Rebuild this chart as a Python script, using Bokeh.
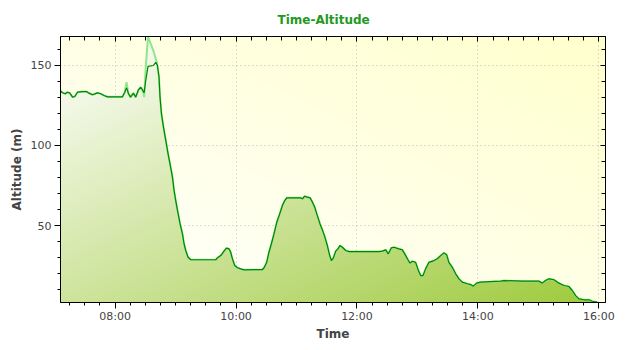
import numpy as np
import pandas as pd
from bokeh.plotting import figure
from bokeh.models import (Range1d, DatetimeAxis, LinearAxis, FixedTicker,
                          DatetimeTickFormatter, ColumnDataSource)
from bokeh.embed import file_html
from bokeh.resources import INLINE

# ---------------- data ----------------
DAY = "2024-06-01 "
times = [
    "07:05:50", "07:07:50", "07:10:25", "07:12:50", "07:15:05", "07:17:50", "07:20:00", "07:22:40", "07:27:40", "07:31:35",
    "07:34:10", "07:37:35", "07:42:30", "07:45:50", "07:49:05", "07:52:30", "08:07:20", "08:09:35", "08:11:20", "08:13:20",
    "08:15:20", "08:18:10", "08:20:30", "08:23:10", "08:25:30", "08:27:50", "08:28:50", "08:30:25", "08:32:40", "08:38:05",
    "08:40:25", "08:42:00", "08:43:35", "08:44:35", "08:46:00", "08:48:00", "08:50:20", "08:52:35", "08:54:30", "08:56:55",
    "08:58:30", "09:00:10", "09:01:55", "09:04:30", "09:06:50", "09:08:25", "09:10:05", "09:12:25", "09:15:05", "09:39:55",
    "09:41:35", "09:44:50", "09:48:05", "09:50:30", "09:53:05", "09:54:40", "09:56:25", "09:58:40", "10:01:25", "10:04:40",
    "10:07:55", "10:26:10", "10:27:50", "10:30:25", "10:32:40", "10:35:05", "10:37:40", "10:40:25", "10:43:20", "10:46:00",
    "10:48:20", "10:50:20", "11:04:10", "11:05:55", "11:08:05", "11:10:50", "11:13:25", "11:15:50", "11:18:05", "11:20:40",
    "11:23:20", "11:25:40", "11:28:00", "11:30:35", "11:32:55", "11:34:35", "11:36:35", "11:38:55", "11:41:10", "11:43:05",
    "11:45:30", "11:48:50", "11:52:05", "12:21:50", "12:25:10", "12:28:30", "12:31:05", "12:34:05", "12:36:40", "12:41:40",
    "12:45:00", "12:48:20", "12:50:35", "12:52:35", "12:54:55", "12:58:10", "13:00:55", "13:03:10", "13:05:30", "13:08:05",
    "13:11:25", "13:16:25", "13:19:40", "13:23:00", "13:26:20", "13:29:00", "13:31:10", "13:34:35", "13:37:55", "13:41:10",
    "13:44:30", "13:49:30", "13:52:50", "13:55:25", "13:58:40", "14:02:40", "14:22:30", "14:25:50", "14:44:00", "15:00:30",
    "15:03:55", "15:07:05", "15:10:25", "15:15:25", "15:20:20", "15:25:20", "15:30:10", "15:33:35", "15:36:55", "15:40:10",
    "15:45:05", "15:50:05", "15:53:30", "15:58:25",
]
# smoothed altitude (dark line)
alt_track = [
    134.0, 133.0, 132.3, 133.3, 132.7, 130.2, 130.6, 133.3, 133.7, 133.7,
    132.7, 131.7, 132.9, 132.3, 131.2, 130.4, 130.4, 133.3, 136.0, 132.3,
    130.2, 132.7, 130.2, 134.8, 136.4, 134.0, 133.0, 140.6, 149.4, 150.0,
    152.0, 150.0, 142.7, 130.2, 119.8, 111.5, 103.0, 94.8, 88.5, 80.2,
    71.9, 65.6, 59.4, 51.0, 44.8, 38.6, 34.4, 30.2, 28.6, 28.6,
    29.8, 31.2, 34.0, 35.9, 35.4, 33.3, 29.2, 25.0, 23.6, 22.9,
    22.3, 22.5, 23.6, 27.0, 33.3, 38.6, 44.8, 52.0, 57.3, 62.5,
    65.6, 67.3, 67.3, 66.7, 68.3, 67.7, 67.3, 64.6, 61.4, 56.2,
    51.0, 47.3, 43.1, 37.5, 31.2, 28.1, 29.8, 34.0, 35.4, 37.5,
    36.4, 34.4, 33.7, 33.7, 34.0, 34.8, 32.3, 36.0, 36.4, 35.4,
    34.8, 31.2, 28.6, 26.5, 27.7, 27.0, 21.9, 18.7, 18.7, 22.9,
    27.0, 28.1, 29.2, 31.2, 32.9, 31.7, 27.0, 23.9, 19.8, 16.7,
    14.6, 13.6, 13.1, 12.1, 14.0, 14.6, 15.2, 15.6, 15.2, 15.2,
    14.0, 15.6, 16.7, 16.1, 14.0, 12.5, 11.9, 9.4, 6.2, 4.2,
    3.6, 3.6, 2.7, 2.1,
]
# raw altitude (light line)
alt_raw = [
    134.0, 133.0, 132.3, 133.3, 132.7, 130.2, 130.6, 133.3, 133.7, 133.7,
    132.7, 131.7, 132.9, 132.3, 131.2, 130.4, 130.4, 133.3, 139.6, 132.3,
    130.2, 132.7, 130.2, 134.8, 136.4, 134.0, 130.2, 149.0, 168.0, 159.0,
    154.0, 150.0, 142.7, 130.2, 119.8, 111.5, 103.0, 94.8, 88.5, 80.2,
    71.9, 65.6, 59.4, 51.0, 44.8, 38.6, 34.4, 30.2, 28.6, 28.6,
    29.8, 31.2, 34.0, 35.9, 35.4, 33.3, 29.2, 25.0, 23.6, 22.9,
    22.3, 22.5, 23.6, 27.0, 33.3, 38.6, 44.8, 52.0, 57.3, 62.5,
    65.6, 67.3, 67.3, 66.7, 68.3, 67.7, 67.3, 64.6, 61.4, 56.2,
    51.0, 47.3, 43.1, 37.5, 31.2, 28.1, 29.8, 34.0, 35.4, 37.5,
    36.4, 34.4, 33.7, 33.7, 34.0, 34.8, 32.3, 36.0, 36.4, 35.4,
    34.8, 31.2, 28.6, 26.5, 27.7, 27.0, 21.9, 18.7, 18.7, 22.9,
    27.0, 28.1, 29.2, 31.2, 32.9, 31.7, 27.0, 23.9, 19.8, 16.7,
    14.6, 13.6, 13.1, 12.1, 14.0, 14.6, 15.2, 15.6, 15.2, 15.2,
    14.0, 15.6, 16.7, 16.1, 14.0, 12.5, 11.9, 9.4, 6.2, 4.2,
    3.6, 3.6, 2.7, 2.1,
]
x_tick_labels = ["08:00", "10:00", "12:00", "14:00", "16:00"]
y_ticks = [50, 100, 150]
x_axis_start, x_axis_end = "07:05:50", "16:06:35"
y_axis_start, y_axis_end = 1.9, 168.1


def to_ms(hms):
    return (pd.Timestamp(DAY + hms) - pd.Timestamp("1970-01-01")).total_seconds() * 1000.0


t_ms = np.array([to_ms(s) for s in times])
x0, x1 = to_ms(x_axis_start), to_ms(x_axis_end)
y0, y1 = y_axis_start, y_axis_end

major_x = [to_ms(s + ":00") for s in x_tick_labels]
minor_x = list(np.arange(to_ms("07:15:00"), to_ms("16:00:00") + 1, 15 * 60 * 1000.0))
minor_y = list(range(10, 170, 10))

FW, FH = 545, 266

p = figure(frame_width=FW, frame_height=FH, x_axis_type="datetime",
           x_range=Range1d(x0, x1), y_range=Range1d(y0, y1),
           output_backend="svg", toolbar_location=None,
           min_border_left=60, min_border_right=35, min_border_top=36, min_border_bottom=48,
           background_fill_color="#ffffff", border_fill_color="#ffffff")

p.title.text = "Time-Altitude"
p.title.align = "left"
p.title.offset = 217
p.title.standoff = 19
p.title.text_font = "DejaVu Sans"
p.title.text_font_style = "bold"
p.title.text_font_size = "12px"
p.title.text_color = "#229922"

# ----- background gradient (decoration) -----
u = (np.arange(FW) + 0.5) / FW
vup = (np.arange(FH) + 0.5) / FH
s_bg = (u[None, :] + vup[:, None]) / 2.0
bg = np.zeros((FH, FW), dtype=np.uint32)
bv = bg.view(dtype=np.uint8).reshape((FH, FW, 4))
bv[..., 0] = 255
bv[..., 1] = 255
bv[..., 2] = np.clip(255 - s_bg * 50, 0, 255).astype(np.uint8)
bv[..., 3] = 255
p.image_rgba(image=[bg], x=x0, y=y0, dw=x1 - x0, dh=y1 - y0, level="image")

# ----- grid -----
for g in (p.xgrid, p.ygrid):
    g.grid_line_color = "#bcbcbc"
    g.grid_line_dash = "1 3"
    g.grid_line_width = 1
p.xgrid.ticker = FixedTicker(ticks=major_x)
p.ygrid.ticker = FixedTicker(ticks=y_ticks)

src = ColumnDataSource(dict(t=t_ms, track=alt_track, raw=alt_raw, base=[y0] * len(t_ms)))

# ----- area (solid base + gradient shading) -----
p.varea(x="t", y1="base", y2="raw", source=src, fill_color="#c4df8c")
tc = x0 + u * (x1 - x0)
yc = y0 + vup * (y1 - y0)
top = np.interp(tc, t_ms, np.array(alt_raw), left=-1e9, right=-1e9)
mask = yc[:, None] <= top[None, :]
down = 1.0 - vup
s_ar = (u[None, :] + down[:, None]) / 2.0
end = np.array([158, 202, 60])
ar = np.zeros((FH, FW), dtype=np.uint32)
av = ar.view(dtype=np.uint8).reshape((FH, FW, 4))
for k in range(3):
    av[..., k] = np.clip(255 + s_ar * (end[k] - 255), 0, 255).astype(np.uint8)
av[..., 3] = np.where(mask, 255, 0).astype(np.uint8)
p.image_rgba(image=[ar], x=x0, y=y0, dw=x1 - x0, dh=y1 - y0)

# ----- lines -----
p.line(x="t", y="raw", source=src, line_color="#8ee68e", line_width=2)
p.line(x="t", y="track", source=src, line_color="#008400", line_width=1.2)

# ----- axes -----
xfmt = DatetimeTickFormatter(hours="%H:%M", hourmin="%H:%M", minutes="%H:%M", minsec="%H:%M",
                             days="%H:%M", seconds="%H:%M", milliseconds="%H:%M")
xa = p.xaxis[0]
xa.ticker = FixedTicker(ticks=major_x, minor_ticks=minor_x)
xa.formatter = xfmt
xa.axis_label = "Time"
ya = p.yaxis[0]
ya.ticker = FixedTicker(ticks=y_ticks, minor_ticks=minor_y)
ya.axis_label = "Altitude (m)"

for ax in (xa, ya):
    ax.axis_line_color = "#000000"
    ax.major_tick_line_color = "#000000"
    ax.minor_tick_line_color = "#000000"
    ax.major_tick_in = 0
    ax.minor_tick_in = 0
    ax.major_tick_out = 6
    ax.minor_tick_out = 3
    ax.major_label_text_font = "DejaVu Sans"
    ax.major_label_text_font_size = "11px"
    ax.major_label_text_color = "#444444"
    ax.axis_label_text_font = "DejaVu Sans"
    ax.axis_label_text_font_style = "bold"
    ax.axis_label_text_font_size = "12px"
    ax.axis_label_text_color = "#444444"
xa.major_label_standoff = 1
xa.axis_label_standoff = 1
ya.major_label_standoff = 3
ya.axis_label_standoff = 4

top_ax = DatetimeAxis(ticker=FixedTicker(ticks=major_x, minor_ticks=minor_x), formatter=xfmt)
right_ax = LinearAxis(ticker=FixedTicker(ticks=y_ticks, minor_ticks=minor_y))
for ax in (top_ax, right_ax):
    ax.axis_line_color = "#000000"
    ax.major_tick_line_color = "#000000"
    ax.minor_tick_line_color = "#000000"
    ax.major_tick_in = 5
    ax.minor_tick_in = 4
    ax.major_tick_out = 0
    ax.minor_tick_out = 0
    ax.major_label_text_font_size = "1px"
    ax.major_label_text_color = None
    ax.major_label_standoff = 0
p.add_layout(top_ax, "above")
p.add_layout(right_ax, "right")

p.outline_line_color = "#000000"

open("out.html", "w").write(file_html(p, INLINE))
